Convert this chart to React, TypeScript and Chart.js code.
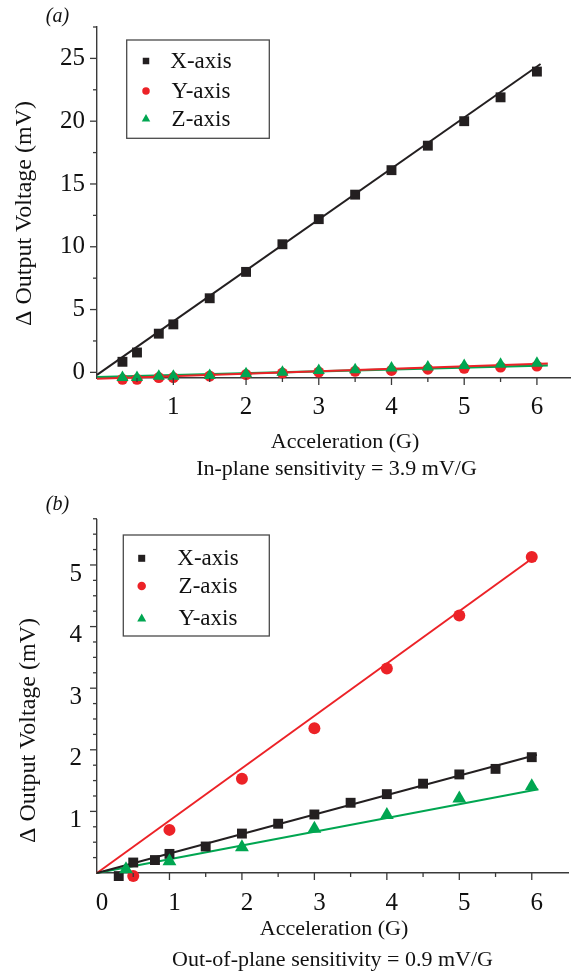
import React, { useEffect, useRef } from 'react';
import { Chart, registerables } from 'chart.js';

Chart.register(...registerables);

// ---------- Panel (a): in-plane ----------
const A_ACCEL = [0.3, 0.5, 0.8, 1, 1.5, 2, 2.5, 3, 3.5, 4, 4.5, 5, 5.5, 6];
const A_X_AXIS = [0.84, 1.58, 3.08, 3.82, 5.9, 8.0, 10.2, 12.2, 14.15, 16.1, 18.05, 20.0, 21.9, 23.95];
const A_Y_AXIS = [-0.55, -0.55, -0.42, -0.42, -0.3, -0.18, -0.06, 0.02, 0.08, 0.15, 0.25, 0.32, 0.42, 0.5];
const A_Z_AXIS = [-0.42, -0.42, -0.32, -0.32, -0.25, -0.12, 0.0, 0.14, 0.2, 0.34, 0.42, 0.54, 0.64, 0.72];
const A_FIT_X_G = [-0.05, 6.05];
const A_FIT_X_V = [-0.2, 24.55];
const A_FIT_Y_G = [-0.05, 6.15];
const A_FIT_Y_V = [-0.5, 0.7];
const A_FIT_Z_G = [-0.05, 6.15];
const A_FIT_Z_V = [-0.38, 0.56];
const A_X_TICKS = [1, 2, 3, 4, 5, 6];
const A_X_MINOR = [0.5, 1.5, 2.5, 3.5, 4.5, 5.5];
const A_Y_TICKS = [0, 5, 10, 15, 20, 25];
const A_Y_MINOR = [2.5, 7.5, 12.5, 17.5, 22.5, 27.5];

// ---------- Panel (b): out-of-plane ----------
const B_X_G = [0.3, 0.5, 0.8, 1, 1.5, 2, 2.5, 3, 3.5, 4, 4.5, 5, 5.5, 6];
const B_X_AXIS = [-0.05, 0.17, 0.21, 0.31, 0.43, 0.64, 0.8, 0.95, 1.14, 1.28, 1.45, 1.6, 1.69, 1.88];
const B_Z_G = [0.5, 1, 2, 3, 4, 5, 6];
const B_Z_AXIS = [-0.05, 0.7, 1.53, 2.35, 3.32, 4.18, 5.13];
const B_Y_G = [0.4, 1, 2, 3, 4, 5, 6];
const B_Y_AXIS = [0.06, 0.19, 0.42, 0.72, 0.94, 1.21, 1.41];
const B_FIT_X_G = [0, 6.07];
const B_FIT_X_V = [0, 1.92];
const B_FIT_Z_G = [0, 6.0];
const B_FIT_Z_V = [0, 5.1];
const B_FIT_Y_G = [0, 6.09];
const B_FIT_Y_V = [0, 1.36];
const B_X_TICKS = [0, 1, 2, 3, 4, 5, 6];
const B_X_MINOR = [0.5, 1.5, 2.5, 3.5, 4.5, 5.5];
const B_Y_TICKS = [1, 2, 3, 4, 5];
const B_Y_MINOR = [0.25, 0.5, 0.75, 1.25, 1.5, 1.75, 2.25, 2.5, 2.75, 3.25, 3.5, 3.75, 4.25, 4.5, 4.75, 5.25, 5.5, 5.75];

const BLACK = '#231f20';
const RED = '#ec2227';
const GREEN = '#00a651';
const AXIS = '#3a3a3a';
const SERIF = '"Liberation Serif", "Times New Roman", serif';

type Series = { label: string; g: number[]; v: number[]; color: string; style: string; radius: number; order: number; legendSize: number };
type Fit = { g: number[]; v: number[]; color: string; width: number };

interface Spec {
  tag: string;
  xTitle: string;
  caption: string;
  yTitle: string;
  xMin: number; xMax: number; yMin: number; yMax: number;
  xTicks: number[]; xMinor: number[]; yTicks: number[]; yMinor: number[];
  series: Series[];
  fits: Fit[];
  padTop: number; padRight: number; yAxisWidth: number; xAxisHeight: number;
  xLabelOffset: number; yLabelOffset: number; xPad: number; yPad: number;
  tagPos: [number, number];
  yTitlePos: [number, number];
  xTitlePos: [number, number];
  captionPos: [number, number];
  legend: { x: number; y: number; w: number; h: number; rows: number[]; markerX: number; textX: number };
}

const SPEC_A: Spec = {
  tag: '(a)',
  xTitle: 'Acceleration (G)',
  caption: 'In-plane sensitivity = 3.9 mV/G',
  yTitle: '\u0394 Output Voltage (mV)',
  xMin: -0.05, xMax: 6.455, yMin: -0.45, yMax: 27.5,
  xTicks: A_X_TICKS, xMinor: A_X_MINOR, yTicks: A_Y_TICKS, yMinor: A_Y_MINOR,
  series: [
    { label: 'X-axis', g: A_ACCEL, v: A_X_AXIS, color: BLACK, style: 'rect', radius: 7, order: 1, legendSize: 6.5 },
    { label: 'Y-axis', g: A_ACCEL, v: A_Y_AXIS, color: RED, style: 'circle', radius: 5.5, order: 3, legendSize: 7.5 },
    { label: 'Z-axis', g: A_ACCEL, v: A_Z_AXIS, color: GREEN, style: 'triangle', radius: 7, order: 2, legendSize: 8.5 },
  ],
  fits: [
    { g: A_FIT_X_G, v: A_FIT_X_V, color: BLACK, width: 2 },
    { g: A_FIT_Y_G, v: A_FIT_Y_V, color: RED, width: 2 },
    { g: A_FIT_Z_G, v: A_FIT_Z_V, color: GREEN, width: 2.2 },
  ],
  padTop: 24, padRight: 2, yAxisWidth: 97, xAxisHeight: 108,
  xLabelOffset: 0, yLabelOffset: 0, xPad: 14, yPad: 12,
  tagPos: [57.5, 16.5],
  yTitlePos: [31, 213.5],
  xTitlePos: [345, 448],
  captionPos: [336.5, 475],
  legend: { x: 126.7, y: 40, w: 142.6, h: 98.3, rows: [61, 91, 118.5], markerX: 146, textX: 201 },
};

const SPEC_B: Spec = {
  tag: '(b)',
  xTitle: 'Acceleration (G)',
  caption: 'Out-of-plane sensitivity = 0.9 mV/G',
  yTitle: '\u0394 Output Voltage (mV)',
  xMin: 0, xMax: 6.5, yMin: 0, yMax: 5.73,
  xTicks: B_X_TICKS, xMinor: B_X_MINOR, yTicks: B_Y_TICKS, yMinor: B_Y_MINOR,
  series: [
    { label: 'X-axis', g: B_X_G, v: B_X_AXIS, color: BLACK, style: 'rect', radius: 7, order: 3, legendSize: 7 },
    { label: 'Z-axis', g: B_Z_G, v: B_Z_AXIS, color: RED, style: 'circle', radius: 6, order: 2, legendSize: 8.5 },
    { label: 'Y-axis', g: B_Y_G, v: B_Y_AXIS, color: GREEN, style: 'triangle', radius: 8, order: 1, legendSize: 9 },
  ],
  fits: [
    { g: B_FIT_X_G, v: B_FIT_X_V, color: BLACK, width: 2 },
    { g: B_FIT_Z_G, v: B_FIT_Z_V, color: RED, width: 2 },
    { g: B_FIT_Y_G, v: B_FIT_Y_V, color: GREEN, width: 2.2 },
  ],
  padTop: 34, padRight: 4, yAxisWidth: 97, xAxisHeight: 99,
  xLabelOffset: 5, yLabelOffset: 9, xPad: 15, yPad: 15,
  tagPos: [57.5, 19],
  yTitlePos: [35, 244.5],
  xTitlePos: [334, 449],
  captionPos: [332.5, 480],
  legend: { x: 123.3, y: 49, w: 146, h: 101, rows: [72.3, 100, 132.3], markerX: 141.7, textX: 208 },
};

function drawMarker(ctx: CanvasRenderingContext2D, style: string, x: number, y: number, size: number, color: string) {
  ctx.fillStyle = color;
  ctx.beginPath();
  if (style === 'rect') {
    ctx.rect(x - size / 2, y - size / 2, size, size);
  } else if (style === 'circle') {
    ctx.arc(x, y, size / 2, 0, Math.PI * 2);
  } else {
    const h = size * 0.866;
    ctx.moveTo(x, y - h * 0.6);
    ctx.lineTo(x + size / 2, y + h * 0.4);
    ctx.lineTo(x - size / 2, y + h * 0.4);
    ctx.closePath();
  }
  ctx.fill();
}

function decorPlugin(spec: Spec) {
  return {
    id: 'decor' + spec.tag,
    afterDraw(chart: any) {
      const ctx: CanvasRenderingContext2D = chart.ctx;
      const xs = chart.scales.x;
      const ys = chart.scales.y;
      const area = chart.chartArea;
      ctx.save();
      ctx.strokeStyle = AXIS;
      ctx.lineWidth = 1.3;
      const tick = (x1: number, y1: number, x2: number, y2: number) => {
        ctx.beginPath();
        ctx.moveTo(x1, y1);
        ctx.lineTo(x2, y2);
        ctx.stroke();
      };
      for (const v of spec.xTicks) {
        const px = xs.getPixelForValue(v);
        if (v !== spec.xMin) tick(px, area.bottom, px, area.bottom + 7);
      }
      for (const v of spec.xMinor) {
        const px = xs.getPixelForValue(v);
        tick(px, area.bottom, px, area.bottom + 4);
      }
      for (const v of spec.yTicks) {
        const py = ys.getPixelForValue(v);
        tick(area.left - 7, py, area.left, py);
      }
      for (const v of spec.yMinor) {
        const py = ys.getPixelForValue(v);
        tick(area.left - 4, py, area.left, py);
      }

      // legend box
      const L = spec.legend;
      ctx.fillStyle = '#ffffff';
      ctx.fillRect(L.x, L.y, L.w, L.h);
      ctx.strokeStyle = '#4a4a4a';
      ctx.lineWidth = 1.3;
      ctx.strokeRect(L.x, L.y, L.w, L.h);
      ctx.font = `23px ${SERIF}`;
      ctx.textAlign = 'center';
      ctx.textBaseline = 'middle';
      spec.series.forEach((s, i) => {
        drawMarker(ctx, s.style, L.markerX, L.rows[i], s.legendSize, s.color);
        ctx.fillStyle = '#111';
        ctx.fillText(s.label, L.textX, L.rows[i] + 1);
      });

      // texts
      ctx.fillStyle = '#111';
      ctx.font = `italic 20px ${SERIF}`;
      ctx.textAlign = 'center';
      ctx.textBaseline = 'middle';
      ctx.fillText(spec.tag, spec.tagPos[0], spec.tagPos[1]);

      ctx.font = `22px ${SERIF}`;
      ctx.textBaseline = 'alphabetic';
      ctx.fillText(spec.xTitle, spec.xTitlePos[0], spec.xTitlePos[1]);
      ctx.fillText(spec.caption, spec.captionPos[0], spec.captionPos[1]);

      ctx.save();
      ctx.translate(spec.yTitlePos[0], spec.yTitlePos[1]);
      ctx.rotate(-Math.PI / 2);
      ctx.font = `24px ${SERIF}`;
      ctx.textAlign = 'center';
      ctx.textBaseline = 'alphabetic';
      ctx.fillText(spec.yTitle, 0, 0);
      ctx.restore();

      ctx.restore();
    },
  };
}

function buildConfig(spec: Spec): any {
  const fitSets = spec.fits.map((f) => ({
    label: '',
    data: f.g.map((x, i) => ({ x, y: f.v[i] })),
    showLine: true,
    borderColor: f.color,
    borderWidth: f.width,
    pointRadius: 0,
    fill: false,
    order: 10,
    clip: false,
  }));
  const pointSets = spec.series.map((s) => ({
    label: s.label,
    data: s.g.map((x, i) => ({ x, y: s.v[i] })),
    showLine: false,
    pointStyle: s.style,
    pointRadius: s.radius,
    pointBackgroundColor: s.color,
    pointBorderColor: s.color,
    pointBorderWidth: 0,
    backgroundColor: s.color,
    borderColor: s.color,
    order: s.order,
    clip: false,
  }));
  const tickFont = { family: SERIF, size: 25 };
  return {
    type: 'scatter',
    data: { datasets: [...pointSets, ...fitSets] },
    options: {
      responsive: false,
      animation: false,
      layout: { padding: { left: 0, right: spec.padRight, top: spec.padTop, bottom: 0 }, autoPadding: false },
      plugins: { legend: { display: false }, tooltip: { enabled: false }, title: { display: false } },
      scales: {
        x: {
          type: 'linear',
          min: spec.xMin,
          max: spec.xMax,
          afterBuildTicks: (s: any) => { s.ticks = spec.xTicks.map((value) => ({ value })); },
          afterFit: (s: any) => { s.height = spec.xAxisHeight; },
          grid: { display: false, drawTicks: false },
          border: { display: true, color: AXIS, width: 1.4 },
          ticks: {
            font: tickFont,
            color: '#111',
            padding: spec.xPad,
            labelOffset: spec.xLabelOffset,
            maxRotation: 0,
            minRotation: 0,
            autoSkip: false,
            callback: (v: any) => String(v),
          },
        },
        y: {
          type: 'linear',
          min: spec.yMin,
          max: spec.yMax,
          afterBuildTicks: (s: any) => { s.ticks = spec.yTicks.map((value) => ({ value })); },
          afterFit: (s: any) => { s.width = spec.yAxisWidth; },
          grid: { display: false, drawTicks: false },
          border: { display: true, color: AXIS, width: 1.4 },
          ticks: {
            font: tickFont,
            color: '#111',
            padding: spec.yPad,
            labelOffset: spec.yLabelOffset,
            autoSkip: false,
            callback: (v: any) => String(v),
          },
        },
      },
    },
    plugins: [decorPlugin(spec)],
  };
}

function Panel({ spec, top }: { spec: Spec; top: number }) {
  const ref = useRef<HTMLCanvasElement>(null);
  useEffect(() => {
    if (!ref.current) return;
    const chart = new Chart(ref.current, buildConfig(spec));
    return () => chart.destroy();
  }, [spec]);
  return (
    <canvas
      ref={ref}
      width={572}
      height={486}
      style={{ position: 'absolute', left: 0, top, width: 572, height: 486, display: 'block' }}
    />
  );
}

export default function App() {
  return (
    <div style={{ position: 'absolute', left: 0, top: 0, width: 572, height: 972, background: '#ffffff' }}>
      <Panel spec={SPEC_A} top={0} />
      <Panel spec={SPEC_B} top={486} />
    </div>
  );
}
